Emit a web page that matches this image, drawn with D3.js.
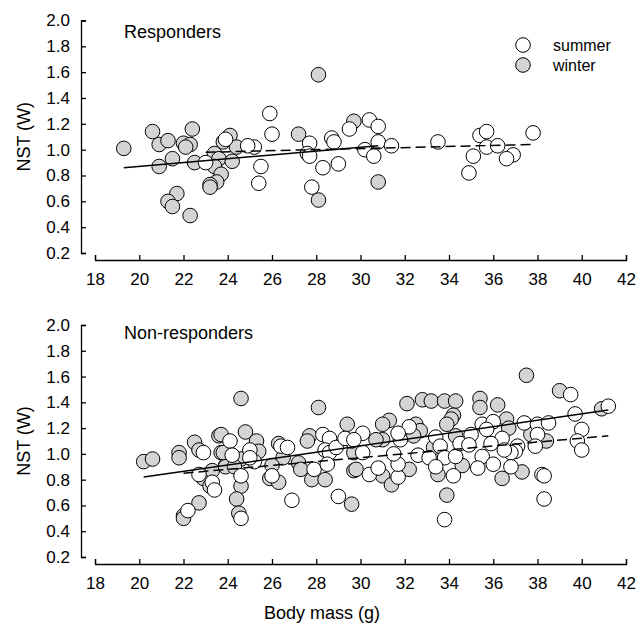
<!DOCTYPE html>
<html><head><meta charset="utf-8">
<script src="https://cdn.jsdelivr.net/npm/d3@7"></script>
<style>body{margin:0;background:#fff}svg text{font-family:Arial,"Liberation Sans",sans-serif;fill:#000}</style>
</head><body><svg id="c" width="639" height="628"></svg>
<script>
const xTicks = [18,20,22,24,26,28,30,32,34,36,38,40,42];
const yTicks = [0.2,0.4,0.6,0.8,1.0,1.2,1.4,1.6,1.8,2.0];
const panelTitles = ["Responders","Non-responders"];
const legendLabels = ["summer","winter"];

const respWinter = [[19.3,1.01],[20.6,1.14],[20.9,1.04],[21.3,1.07],[22.0,1.05],[22.3,1.04],[22.1,1.02],[22.4,1.16],[21.5,0.93],[20.9,0.87],[22.5,0.90],[21.7,0.66],[21.3,0.60],[21.5,0.56],[22.3,0.49],[23.4,0.97],[23.6,0.93],[23.4,0.87],[23.7,0.81],[23.5,0.75],[23.2,0.73],[23.2,0.71],[24.1,1.11],[24.4,1.02],[24.2,0.91],[23.8,1.06],[28.1,1.58],[27.2,1.12],[28.1,0.61],[29.7,1.22],[30.8,0.75]];
const respSummer = [[23.0,0.90],[23.9,1.08],[25.2,1.02],[24.9,1.03],[25.5,0.87],[25.4,0.74],[25.9,1.28],[26.0,1.12],[27.7,1.05],[27.6,0.97],[27.7,0.95],[28.3,0.86],[27.8,0.71],[28.7,1.09],[28.8,1.06],[29.0,0.89],[29.5,1.16],[30.4,1.23],[30.8,1.18],[30.8,1.06],[30.2,1.00],[30.6,0.95],[31.4,1.03],[33.5,1.06],[35.4,1.11],[35.7,1.14],[35.7,1.02],[36.2,1.03],[35.1,0.95],[34.9,0.82],[36.9,0.96],[36.6,0.93],[37.8,1.13]];
const nonWinter = [[20.2,0.94],[20.6,0.96],[21.8,1.01],[21.8,0.97],[22.5,1.09],[22.7,1.03],[23.6,1.14],[23.7,1.01],[23.9,0.91],[22.7,0.62],[22.0,0.52],[22.0,0.50],[22.9,0.81],[23.3,0.87],[23.2,0.75],[24.6,1.43],[23.7,1.15],[24.8,1.17],[25.3,1.10],[25.4,1.02],[23.8,1.01],[24.6,0.96],[23.9,0.90],[24.3,0.90],[24.6,0.75],[24.4,0.65],[24.5,0.54],[26.3,1.08],[26.5,0.97],[26.0,0.91],[25.9,0.81],[26.3,0.78],[28.1,1.36],[27.7,1.14],[27.6,1.10],[27.2,0.93],[27.3,0.88],[27.8,0.80],[28.4,0.80],[29.4,1.23],[29.6,0.61],[29.7,0.87],[29.7,1.01],[32.1,1.39],[32.8,1.42],[33.2,1.41],[33.8,1.41],[34.3,1.41],[35.4,1.43],[35.4,1.36],[34.2,1.30],[34.1,1.27],[33.9,1.23],[31.3,1.26],[31.0,1.23],[32.5,1.23],[32.7,1.18],[32.4,1.14],[31.0,1.11],[30.7,1.11],[29.8,0.88],[31.0,0.83],[31.4,0.76],[32.2,0.88],[33.3,1.05],[33.5,0.84],[34.6,0.91],[34.3,1.14],[33.9,0.68],[37.5,1.61],[39.0,1.49],[40.9,1.35],[36.2,1.38],[36.6,1.27],[36.7,1.20],[37.7,1.15],[38.4,1.10],[37.3,0.86],[36.4,0.81]];
const nonSummer = [[22.9,1.01],[22.2,0.56],[22.7,0.84],[23.3,0.78],[23.4,0.72],[24.1,1.10],[25.0,1.03],[24.2,0.99],[25.2,0.94],[25.0,0.97],[24.6,0.83],[24.6,0.50],[26.4,1.06],[26.7,1.05],[26.0,0.83],[26.9,0.64],[27.9,0.88],[28.3,1.15],[28.6,1.12],[28.4,1.03],[28.6,1.01],[28.5,0.92],[28.9,1.05],[29.6,1.10],[29.3,1.12],[29.0,0.67],[32.2,1.21],[31.8,1.11],[31.7,1.16],[30.1,1.16],[29.7,1.11],[30.1,1.01],[30.4,0.84],[30.8,0.89],[31.7,0.82],[31.7,0.92],[31.5,1.00],[32.6,0.99],[33.1,0.97],[33.4,1.13],[33.6,1.06],[33.8,0.97],[33.4,0.90],[34.2,0.83],[34.3,0.98],[34.5,1.08],[35.0,1.15],[34.9,1.07],[35.5,1.23],[35.5,0.98],[35.3,0.89],[33.8,0.49],[39.5,1.46],[41.2,1.37],[39.7,1.31],[40.0,1.19],[39.8,1.10],[40.0,1.03],[36.0,1.25],[37.4,1.24],[38.0,1.23],[38.5,1.24],[38.0,1.15],[37.9,1.06],[37.1,1.06],[37.0,1.02],[36.8,1.01],[36.4,1.12],[36.5,1.03],[35.9,1.08],[35.7,1.19],[36.0,0.92],[36.8,0.90],[38.2,0.84],[38.3,0.83],[38.3,0.65]];

const respWinterFit = [[19.3,0.86],[30.8,1.03]];
const respSummerFit = [[23.0,0.98],[37.8,1.04]];
const nonWinterFit = [[20.2,0.82],[41.2,1.34]];
const nonSummerFit = [[22.0,0.85],[41.2,1.14]];

const svg = d3.select("#c");
const x = d3.scaleLinear().domain([18,42]).range([95,626]);
const FS = 17, LFS = 18, R = 7.3;

const panels = [
  {top:20.5, bot:253, xAxisY:260, title:panelTitles[0], titleY:38, winter:respWinter, summer:respSummer, wFit:respWinterFit, sFit:respSummerFit, legend:true},
  {top:325, bot:557, xAxisY:564, title:panelTitles[1], titleY:339, winter:nonWinter, summer:nonSummer, wFit:nonWinterFit, sFit:nonSummerFit, legend:false}
];

panels.forEach(p => {
  const y = d3.scaleLinear().domain([0.2,2.0]).range([p.bot,p.top]);
  const g = svg.append("g");
  const yAx = g.append("g").attr("transform","translate(81,0)")
    .call(d3.axisLeft(y).tickValues(yTicks).tickFormat(d3.format(".1f")).tickSize(-5).tickPadding(11));
  const xAx = g.append("g").attr("transform",`translate(0,${p.xAxisY})`)
    .call(d3.axisBottom(x).tickValues(xTicks).tickFormat(d3.format("d")).tickSize(-5).tickPadding(13));
  [yAx,xAx].forEach(a => {
    a.selectAll("path,line").attr("stroke","#000").attr("stroke-width",1.3);
    a.selectAll("text").attr("font-size",FS).attr("font-family","Arial, 'Liberation Sans', sans-serif");
  });
  g.append("text").attr("transform",`translate(30,${(p.top+p.bot)/2}) rotate(-90)`)
    .attr("text-anchor","middle").attr("font-size",LFS).text("NST (W)");
  g.append("text").attr("x",124).attr("y",p.titleY).attr("font-size",LFS).text(p.title);

  const line = d3.line().x(d=>x(d[0])).y(d=>y(d[1]));
  g.selectAll(".w").data(p.winter).join("circle")
    .attr("cx",d=>x(d[0])).attr("cy",d=>y(d[1])).attr("r",R)
    .attr("fill","#d3d5d5").attr("stroke","#000").attr("stroke-width",1);
  g.selectAll(".s").data(p.summer).join("circle")
    .attr("cx",d=>x(d[0])).attr("cy",d=>y(d[1])).attr("r",R)
    .attr("fill","#fff").attr("stroke","#000").attr("stroke-width",1);
  g.append("path").attr("d",line(p.wFit)).attr("fill","none").attr("stroke","#000").attr("stroke-width",1.5);
  g.append("path").attr("d",line(p.sFit)).attr("fill","none").attr("stroke","#000").attr("stroke-width",1.5).attr("stroke-dasharray","10,5");

  if (p.legend) {
    const fills = ["#fff","#d3d5d5"];
    legendLabels.forEach((lab,i) => {
      g.append("circle").attr("cx",523).attr("cy",45+i*20).attr("r",R).attr("fill",fills[i]).attr("stroke","#000");
      g.append("text").attr("x",553).attr("y",51+i*20).attr("font-size",16).text(lab);
    });
  }
});
svg.append("text").attr("x",322).attr("y",619).attr("text-anchor","middle").attr("font-size",LFS).text("Body mass (g)");
</script></body></html>
